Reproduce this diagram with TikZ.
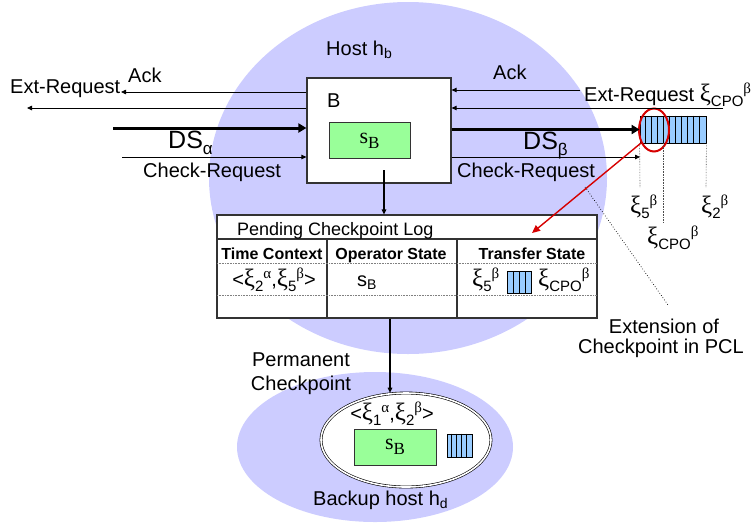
\documentclass[tikz,border=0pt]{standalone}
\usepackage{fontspec}
\setmainfont{Liberation Sans}
\newfontfamily\serif{Liberation Serif}
\usetikzlibrary{arrows.meta,shapes.geometric}

\definecolor{hostfill}{RGB}{204,204,255}
\definecolor{statefill}{RGB}{153,255,153}
\definecolor{buffill}{RGB}{153,204,255}
\definecolor{markred}{RGB}{214,0,0}

% Greek xi with a subscript and a superscript written side by side
\newcommand\gxi[2]{{\serif\fontsize{25}{28}\selectfont ξ}\raisebox{-5pt}{\fontsize{15}{18}\selectfont #1}\raisebox{8pt}{\serif\fontsize{15}{18}\selectfont #2}}
% operator state s_B in a serif face
\newcommand\opstate{{\serif\fontsize{22}{26}\selectfont s\raisebox{-5pt}{\fontsize{17}{20}\selectfont B}}}

\begin{document}
\begin{tikzpicture}[x=1pt,y=-1pt,
  every node/.style={font=\fontsize{20}{24}\selectfont},
  lbl/.style={inner sep=0pt,anchor=base west},
  clbl/.style={inner sep=0pt,anchor=base},
  head/.style={inner sep=0pt,anchor=base,font=\bfseries\fontsize{16}{19}\selectfont},
  msg/.style={draw,line width=0.8pt,-{Triangle[length=5pt,width=4.5pt]}},
  flow/.style={draw,line width=3pt,-{Triangle[length=8pt,width=9pt]}},
  tick/.style={draw,line width=0.6pt,densely dotted,black!70},
  frame/.style={draw=black!80,line width=1.2pt,fill=white,inner sep=0pt},
  statebox/.style={draw=black!80,line width=1pt,fill=statefill,inner sep=0pt},
  hostarea/.style={ellipse,fill=hostfill,inner sep=0pt}]

\useasboundingbox (0,0) rectangle (751,523);

% host areas
\node[hostarea,minimum width=398pt,minimum height=352pt] (host) at (408,178) {};
\node[hostarea,minimum width=276pt,minimum height=150pt] (backup) at (375,447) {};
\node[lbl] (hostlbl) at (326,55) {Host h\textsubscript{b}};
\node[lbl] (backuplbl) at (313,505) {Backup host h\textsubscript{d}};

% operator B
\node[frame,minimum width=144pt,minimum height=105pt] (B) at (379,130.5) {};
\node[lbl] (Blbl) at (327,107) {B};
\node[statebox,minimum width=81pt,minimum height=36pt] (sB) at (369.5,140.5) {\opstate};

% left side streams
\coordinate (l1) at (121,92);
\coordinate (l2) at (27,108);
\coordinate (l3) at (113,128);
\coordinate (l4) at (122,157);
\draw[msg] (B.west |- l1) -- (l1);
\draw[msg] (B.west |- l2) -- (l2);
\draw[flow] (l3) -- (B.west |- l3);
\draw[msg] (l4) -- (B.west |- l4);
\node[lbl] (extL) at (10,93) {Ext-Request};
\node[lbl] (ackL) at (128,82) {Ack};
\node[lbl,font=\fontsize{25}{30}\selectfont] (dsa) at (168,148) {DS\raisebox{-6pt}{\fontsize{17}{20}\selectfont α}};
\node[lbl] (chkL) at (143,177) {Check-Request};

% output queue
\node[draw,fill=buffill,line width=0.8pt,minimum width=66pt,minimum height=27pt,inner sep=0pt] (queue) at (673,129.5) {};
\foreach \i in {1,...,10} \draw[line width=0.7pt] ([xshift=6*\i pt]queue.north west) -- ([xshift=6*\i pt]queue.south west);
\node[draw=markred,line width=2pt,ellipse,minimum width=30pt,minimum height=43pt,inner sep=0pt] (mark) at (654,130) {};

% right side streams
\coordinate (r1) at (580,90);
\coordinate (r2) at (723,108);
\coordinate (r4) at (640,157);
\draw[msg] (r1) -- (B.east |- r1);
\draw[msg] (r2) -- (B.east |- r2);
\draw[flow] (B.east |- queue.west) -- (queue.west);
\draw[msg] (B.east |- r4) -- (r4);
\node[lbl] (ackR) at (493,79) {Ack};
\node[lbl] (extR) at (584,101) {Ext-Request \gxi{CPO}{β}};
\node[lbl,font=\fontsize{25}{30}\selectfont] (dsb) at (523,149) {DS\raisebox{-6pt}{\fontsize{17}{20}\selectfont β}};
\node[lbl] (chkR) at (457,177) {Check-Request};

% positions in the queue
\coordinate (t1) at (640,187);
\coordinate (t2) at (663,223);
\coordinate (t3) at (706,187);
\draw[tick] (queue.south west) -- (t1);
\draw[tick] (queue.south west -| t2) -- (t2);
\draw[tick] (queue.south east) -- (t3);
\node[lbl] (x5) at (630,213) {\gxi{5}{β}};
\node[lbl] (x2) at (701,213) {\gxi{2}{β}};
\node[lbl] (xcpo) at (647,244) {\gxi{CPO}{β}};

% pending checkpoint log
\node[frame,minimum width=380pt,minimum height=103pt] (log) at (407,266.5) {};
\draw[black!80,line width=1.2pt] (217,239) -- (597,239);
\draw[black!80,line width=1.2pt] (327,239) -- (327,318) (457,239) -- (457,318);
\draw[black!50,line width=0.6pt,densely dotted] (217,263) -- (597,263) (217,295) -- (597,295);
\node[lbl,font=\fontsize{18}{22}\selectfont] (pcl) at (237,235) {Pending Checkpoint Log};
\node[head] (hTime) at (272,259) {Time Context};
\node[head] (hOp) at (391,259) {Operator State};
\node[head] (hTr) at (532,259) {Transfer State};
\node[clbl] (dTime) at (274,286) {<\gxi{2}{α},\gxi{5}{β}>};
\node[lbl] (dOp) at (357,286) {s\textsubscript{B}};
\node[lbl] (dTr1) at (472,286) {\gxi{5}{β}};
\node[draw,fill=buffill,line width=0.8pt,minimum width=24pt,minimum height=22pt,inner sep=0pt] (logq) at (519.5,282.5) {};
\foreach \i in {1,2,3} \draw[line width=0.7pt] ([xshift=6*\i pt]logq.north west) -- ([xshift=6*\i pt]logq.south west);
\node[lbl] (dTr2) at (538,286) {\gxi{CPO}{β}};

% B writes into the log
\coordinate (bout) at (384,170);
\draw[msg,line width=1.3pt] (bout) -- (bout |- log.north);

% marked part of the queue goes into the log
\coordinate (logtip) at (532,233);
\draw[markred,line width=1.4pt,-{Triangle[length=8pt,width=7pt]}] (mark.225) -- (logtip);

% note on the extension
\coordinate (e0) at (585,187);
\coordinate (e1) at (668,305);
\draw[line width=0.7pt,dotted] (e0) -- (e1);
\node[clbl] (ext1) at (664,333) {Extension of};
\node[clbl] (ext2) at (661,353) {Checkpoint in PCL};

% permanent checkpoint on the backup host
\node[draw,fill=white,ellipse,double,double distance=1.6pt,line width=0.6pt,minimum width=170pt,minimum height=94pt,inner sep=0pt] (ckpt) at (406,440) {};
\node[clbl] (perm1) at (301,366) {Permanent};
\node[clbl] (perm2) at (301,390) {Checkpoint};
\coordinate (pc) at (390,0);
\draw[msg,line width=1.3pt] (log.south -| pc) -- (pc |- ckpt.north);
\node[clbl] (ctime) at (392,420) {<\gxi{1}{α},\gxi{2}{β}>};
\node[statebox,minimum width=82pt,minimum height=36pt] (sB2) at (395,447) {\opstate};
\node[draw,fill=buffill,line width=0.8pt,minimum width=25pt,minimum height=23pt,inner sep=0pt] (ckq) at (459.5,445.5) {};
\foreach \i in {1,...,4} \draw[line width=0.7pt] ([xshift=5*\i pt]ckq.north west) -- ([xshift=5*\i pt]ckq.south west);

\end{tikzpicture}
\end{document}
